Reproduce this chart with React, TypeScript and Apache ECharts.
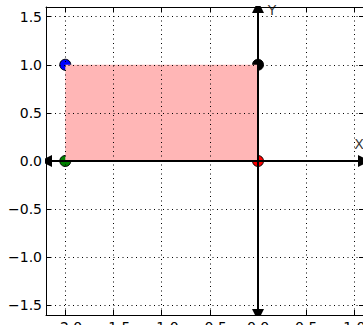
import { useEffect, useRef } from "react";
import * as echarts from "echarts";

// Axis extents and tick spacing
const xRange = [-2.2, 1.1];
const yRange = [-1.6, 1.6];
const tickStep = 0.5;

// Corner points of the shaded rectangle
const pointX = [-2, 0, -2, 0];
const pointY = [1, 1, 0, 0];
const pointColors = ["#0000ff", "#000000", "#008000", "#ff0000"];

// Shaded rectangle bounds
const rectX = [-2, 0];
const rectY = [0, 1];

// Axis-name annotations
const axisNames = ["X", "Y"];
const axisNameX = [1.0, 0.1];
const axisNameY = [0.1, 1.5];

const FONT = "DejaVu Sans";

function onStep(v: number) {
  const k = v / tickStep;
  return Math.abs(k - Math.round(k)) < 1e-6;
}

function tickLabel(v: number) {
  if (!onStep(v)) return "";
  return v.toFixed(1).replace("-", "\u2212");
}

export default function App() {
  const ref = useRef<HTMLDivElement>(null);

  useEffect(() => {
    if (!ref.current) return;
    const chart = echarts.init(ref.current, undefined, { renderer: "svg" });

    const tick = { show: true, inside: true, length: 5, lineStyle: { color: "#000", width: 1 } };
    const axisLine = { show: true, onZero: false, lineStyle: { color: "#000", width: 1 } };
    const grid = { show: true, lineStyle: { color: "#000", width: 1, type: [1, 3.5] } };

    chart.setOption({
      animation: false,
      grid: {
        left: 46,
        top: 7,
        width: 318,
        height: 308,
        containLabel: false,
        outerBoundsMode: "none",
      },
      xAxis: [
        {
          type: "value",
          min: xRange[0],
          max: xRange[1],
          splitNumber: 5,
          position: "bottom",
          z: 3,
          axisLine,
          axisTick: tick,
          splitLine: grid,
          axisLabel: {
            show: true,
            margin: 5,
            fontFamily: FONT,
            fontSize: 14,
            color: "#000",
            showMinLabel: false,
            showMaxLabel: false,
            formatter: tickLabel,
          },
        },
        {
          type: "value",
          min: xRange[0],
          max: xRange[1],
          splitNumber: 5,
          position: "top",
          z: 3,
          axisLine,
          axisTick: tick,
          splitLine: { show: false },
          axisLabel: { show: false },
        },
      ],
      yAxis: [
        {
          type: "value",
          min: yRange[0],
          max: yRange[1],
          splitNumber: 5,
          position: "left",
          z: 3,
          axisLine,
          axisTick: tick,
          splitLine: grid,
          axisLabel: {
            show: true,
            margin: 4,
            fontFamily: FONT,
            fontSize: 14,
            color: "#000",
            showMinLabel: false,
            showMaxLabel: false,
            formatter: tickLabel,
          },
        },
        {
          type: "value",
          min: yRange[0],
          max: yRange[1],
          splitNumber: 5,
          position: "right",
          z: 3,
          axisLine,
          axisTick: tick,
          splitLine: { show: false },
          axisLabel: { show: false },
        },
      ],
      series: [
        {
          type: "scatter",
          z: 1,
          symbol: "circle",
          symbolSize: 11,
          silent: true,
          itemStyle: { borderColor: "#000", borderWidth: 1, opacity: 1 },
          data: pointX.map((x, i) => ({
            value: [x, pointY[i]],
            itemStyle: { color: pointColors[i] },
          })),
        },
        {
          type: "custom",
          z: 2,
          silent: true,
          clip: false,
          data: [[rectX[0], rectX[1], rectY[0], rectY[1]]],
          encode: { x: [0, 1], y: [2, 3] },
          renderItem: (_params: any, api: any) => {
            const p0 = api.coord([api.value(0), api.value(3)]);
            const p1 = api.coord([api.value(1), api.value(2)]);
            return {
              type: "rect",
              shape: { x: p0[0], y: p0[1], width: p1[0] - p0[0], height: p1[1] - p0[1] },
              style: { fill: "#ffb6b6" },
            };
          },
        },
        {
          type: "lines",
          coordinateSystem: "cartesian2d",
          z: 4,
          silent: true,
          symbol: ["none", "triangle"],
          symbolSize: [11, 12],
          lineStyle: { color: "#000", width: 2, opacity: 1 },
          itemStyle: { color: "#000" },
          data: [
            { coords: [[0, 0], [xRange[0], 0]] },
            { coords: [[0, 0], [xRange[1], 0]] },
            { coords: [[0, 0], [0, yRange[0]]] },
            { coords: [[0, 0], [0, yRange[1]]] },
          ],
        },
        {
          type: "scatter",
          z: 4,
          silent: true,
          symbolSize: 0,
          label: {
            show: true,
            position: [0, 0],
            align: "left",
            verticalAlign: "bottom",
            fontFamily: FONT,
            fontSize: 14,
            color: "#000",
            formatter: (p: any) => p.name,
          },
          data: axisNames.map((n, i) => ({ name: n, value: [axisNameX[i], axisNameY[i]] })),
        },
      ],
    });

    return () => chart.dispose();
  }, []);

  return (
    <div
      ref={ref}
      style={{ position: "absolute", left: 0, top: 0, width: 363, height: 325, background: "#fff" }}
    />
  );
}
